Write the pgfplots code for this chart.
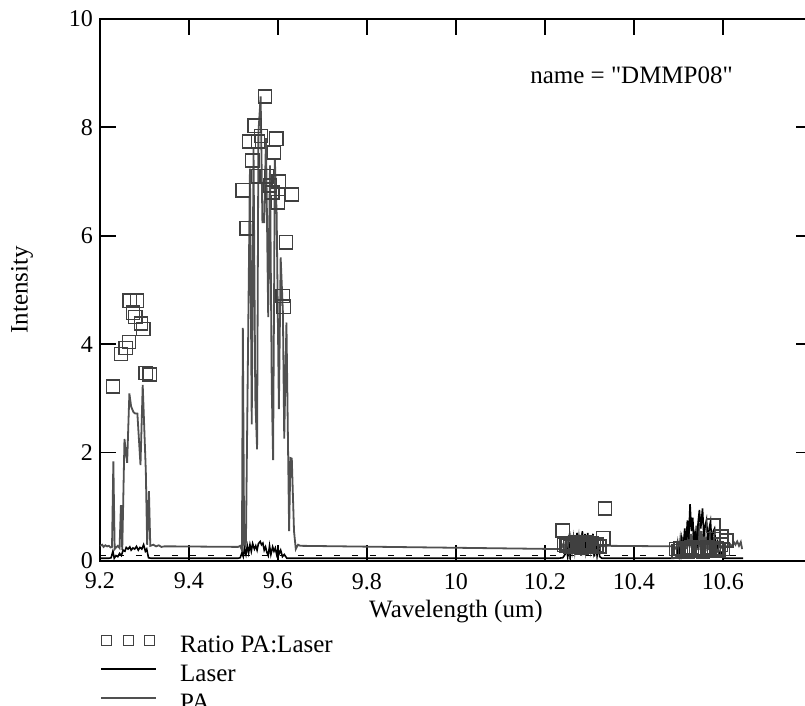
\documentclass[border=0pt]{standalone}
\usepackage{fontspec}
\setmainfont{Liberation Serif}
\newfontfamily\nolig{Liberation Serif}[Ligatures=TeXOff]
\usepackage{pgfplots}
\usepackage{pgfplotstable}
\pgfplotsset{compat=1.18}
\definecolor{pagrey}{HTML}{505050}
\definecolor{sqgrey}{HTML}{404040}

\pgfplotstableread{
x y
9.200 0.28
9.205 0.30
9.208 0.26
9.212 0.29
9.216 0.27
9.220 0.28
9.224 0.25
9.227 0.26
9.230 1.84
9.233 0.22
9.236 0.25
9.240 0.28
9.244 0.24
9.247 1.03
9.250 0.20
9.255 2.25
9.261 1.81
9.266 3.09
9.270 2.85
9.275 2.75
9.279 2.72
9.284 2.72
9.291 1.77
9.296 3.25
9.303 1.65
9.306 0.30
9.310 1.29
9.313 0.28
9.320 0.30
9.326 0.27
9.332 0.29
9.338 0.26
9.345 0.27
9.360 0.27
9.510 0.26
9.515 0.28
9.519 0.20
9.521 4.30
9.524 0.20
9.528 0.35
9.537 7.24
9.541 2.52
9.545 7.60
9.549 3.00
9.553 2.06
9.556 7.90
9.561 8.57
9.565 6.25
9.569 6.25
9.573 7.80
9.578 4.50
9.582 7.30
9.586 3.20
9.589 1.86
9.593 7.40
9.597 6.40
9.602 2.80
9.606 5.60
9.611 4.60
9.614 2.26
9.619 4.40
9.625 0.55
9.628 1.90
9.631 1.89
9.636 0.55
9.640 0.22
9.645 0.30
9.650 0.28
10.234 0.22
10.237 0.26
10.240 0.30
10.243 0.18
10.246 0.35
10.249 0.22
10.252 0.38
10.255 0.15
10.258 0.40
10.261 0.20
10.264 0.42
10.267 0.18
10.270 0.38
10.273 0.25
10.276 0.44
10.279 0.16
10.282 0.40
10.285 0.22
10.288 0.45
10.291 0.18
10.294 0.36
10.297 0.14
10.300 0.42
10.303 0.20
10.306 0.38
10.309 0.16
10.312 0.30
10.315 0.20
10.318 0.34
10.321 0.25
10.325 0.28
10.330 0.27
10.340 0.28
10.490 0.27
10.495 0.22
10.498 0.35
10.501 0.15
10.504 0.40
10.507 0.18
10.510 0.45
10.513 0.20
10.516 0.55
10.519 0.22
10.522 0.62
10.525 0.25
10.528 0.50
10.531 0.20
10.534 0.58
10.537 0.18
10.540 0.65
10.543 0.24
10.546 0.70
10.549 0.20
10.552 0.55
10.555 0.22
10.558 0.60
10.561 0.18
10.564 0.45
10.567 0.20
10.570 0.52
10.573 0.25
10.576 0.40
10.580 0.22
10.584 0.35
10.588 0.20
10.592 0.30
10.596 0.25
10.600 0.30
10.605 0.28
10.610 0.26
10.615 0.32
10.620 0.27
10.625 0.34
10.628 0.30
10.632 0.36
10.636 0.28
10.640 0.35
10.643 0.22
}\patable

\pgfplotstableread{
x y
9.200 0.05
9.220 0.05
9.225 0.06
9.229 0.18
9.232 0.05
9.236 0.10
9.240 0.08
9.244 0.14
9.248 0.10
9.252 0.20
9.256 0.18
9.259 0.25
9.263 0.22
9.267 0.26
9.270 0.20
9.274 0.24
9.278 0.22
9.282 0.27
9.286 0.20
9.290 0.25
9.294 0.22
9.298 0.30
9.302 0.18
9.305 0.22
9.309 0.06
9.315 0.05
9.510 0.05
9.515 0.06
9.519 0.15
9.522 0.08
9.525 0.22
9.528 0.12
9.531 0.28
9.534 0.15
9.537 0.30
9.540 0.18
9.543 0.32
9.547 0.22
9.550 0.28
9.553 0.20
9.556 0.32
9.560 0.36
9.563 0.30
9.566 0.33
9.569 0.20
9.572 0.26
9.575 0.16
9.578 0.10
9.581 0.28
9.584 0.12
9.588 0.26
9.591 0.18
9.594 0.24
9.597 0.12
9.600 0.22
9.603 0.14
9.606 0.20
9.610 0.08
9.614 0.12
9.620 0.05
9.640 0.05
10.230 0.05
10.240 0.06
10.245 0.12
10.248 0.25
10.251 0.08
10.254 0.30
10.257 0.10
10.260 0.40
10.263 0.15
10.266 0.45
10.269 0.12
10.272 0.52
10.275 0.20
10.278 0.48
10.281 0.10
10.284 0.55
10.287 0.18
10.290 0.50
10.293 0.12
10.296 0.52
10.299 0.15
10.302 0.45
10.305 0.20
10.308 0.50
10.311 0.08
10.314 0.38
10.317 0.10
10.320 0.30
10.323 0.08
10.328 0.05
10.490 0.05
10.496 0.08
10.500 0.25
10.503 0.10
10.507 0.40
10.510 0.15
10.514 0.60
10.517 0.30
10.520 0.75
10.523 0.40
10.526 1.05
10.529 0.55
10.532 0.80
10.535 0.30
10.538 0.55
10.541 0.20
10.544 0.70
10.547 0.94
10.550 0.60
10.554 0.97
10.557 0.45
10.560 0.65
10.563 0.76
10.566 0.35
10.569 0.60
10.572 0.73
10.575 0.30
10.578 0.55
10.581 0.60
10.584 0.20
10.588 0.35
10.592 0.10
10.596 0.15
10.600 0.05
10.645 0.05
}\lasertable

\pgfplotstableread{
x y
9.229 3.22
9.247 3.82
9.258 3.93
9.265 4.04
9.267 4.80
9.283 4.80
9.274 4.58
9.279 4.50
9.292 4.38
9.297 4.28
9.303 3.47
9.312 3.44
9.521 6.84
9.530 6.14
9.535 7.74
9.542 7.39
9.548 8.03
9.555 7.74
9.562 7.84
9.571 8.57
9.555 7.10
9.575 7.10
9.582 6.93
9.596 7.79
9.591 7.54
9.602 7.00
9.587 6.80
9.631 6.76
9.600 6.62
9.618 5.88
9.611 4.89
9.613 4.69
10.240 0.56
10.335 0.97
10.331 0.42
10.243 0.30
10.248 0.28
10.252 0.33
10.256 0.26
10.262 0.30
10.268 0.34
10.272 0.27
10.278 0.31
10.283 0.25
10.288 0.30
10.293 0.35
10.298 0.28
10.304 0.32
10.310 0.26
10.316 0.30
10.322 0.27
10.578 0.65
10.608 0.38
10.596 0.45
10.495 0.22
10.500 0.18
10.505 0.24
10.510 0.20
10.515 0.23
10.520 0.17
10.525 0.22
10.530 0.25
10.535 0.19
10.540 0.23
10.545 0.20
10.550 0.24
10.555 0.18
10.560 0.22
10.565 0.26
10.570 0.20
10.575 0.23
10.580 0.19
10.585 0.24
10.590 0.20
10.595 0.30
10.600 0.22
}\ratiotable

\begin{document}
\begin{tikzpicture}[font=\fontsize{12.5}{14}\selectfont]
\begin{axis}[
  at={(0pt,0pt)}, anchor=south west,
  scale only axis, width=356pt, height=271pt,
  xmin=9.2, xmax=10.8, ymin=0, ymax=10,
  xtick={9.2,9.4,9.6,9.8,10,10.2,10.4,10.6},
  xticklabels={9.2,9.4,9.6,9.8,10,10.2,10.4,10.6},
  ytick={0,2,4,6,8,10},
  yticklabels={0,2,4,6,8,10},
  minor tick num=0,
  tick align=inside, major tick length=8pt,
  tick style={black, line width=0.9pt},
  axis line style={black, line width=1pt},
  tick label style={font=\fontsize{12}{14}\selectfont},
  xticklabel style={yshift=-2.5pt},
  /pgf/number format/assume math mode=true,
  xlabel={Wavelength (um)},
  xlabel style={at={(axis description cs:0.5,-0.0941)}, anchor=center},
  ylabel={Intensity},
  ylabel style={at={(axis description cs:-0.1096,0.5)}, anchor=center},
  reverse legend,
  legend cell align=left,
  legend style={at={(axis description cs:0,0)}, anchor=north west,
    yshift=-35.2pt, draw=none, fill=none, inner sep=0pt,
    column sep=11.5pt, row sep=0pt,
    nodes={inner sep=0pt, text height=10.5pt, text depth=4pt},
    font=\fontsize{12.5}{14}\selectfont},
]
\addplot[black, line width=0.6pt, dash pattern=on 3pt off 6pt, forget plot]
  coordinates {(9.2,0.1) (10.645,0.1)};
\addplot[pagrey, line width=0.9pt,
  legend image code/.code={\draw (0pt,3pt) -- (27.5pt,3pt);}]
  table[x=x,y=y] {\patable};
\addlegendentry{PA}
\addplot[black, line width=0.8pt,
  legend image code/.code={\draw (0pt,3pt) -- (27.5pt,3pt);}]
  table[x=x,y=y] {\lasertable};
\addlegendentry{Laser}
\addplot[sqgrey, only marks, mark=square, mark size=3.3pt,
  mark options={sqgrey, line width=0.8pt, solid},
  legend image code/.code={
    \draw[sqgrey, line width=0.6pt] (0pt,0.5pt) rectangle (5pt,5.5pt);
    \draw[sqgrey, line width=0.6pt] (11pt,0.5pt) rectangle (16pt,5.5pt);
    \draw[sqgrey, line width=0.6pt] (21.5pt,0.5pt) rectangle (26.5pt,5.5pt);}]
  table[x=x,y=y] {\ratiotable};
\addlegendentry{Ratio PA:Laser}
\node[anchor=west, inner sep=0pt] at (axis cs:10.166,8.97) {\nolig name = "DMMP08"};
\end{axis}
\pgfresetboundingbox
\useasboundingbox (-50pt,-72.5pt) rectangle (352.5pt,280.5pt);
\end{tikzpicture}
\end{document}
